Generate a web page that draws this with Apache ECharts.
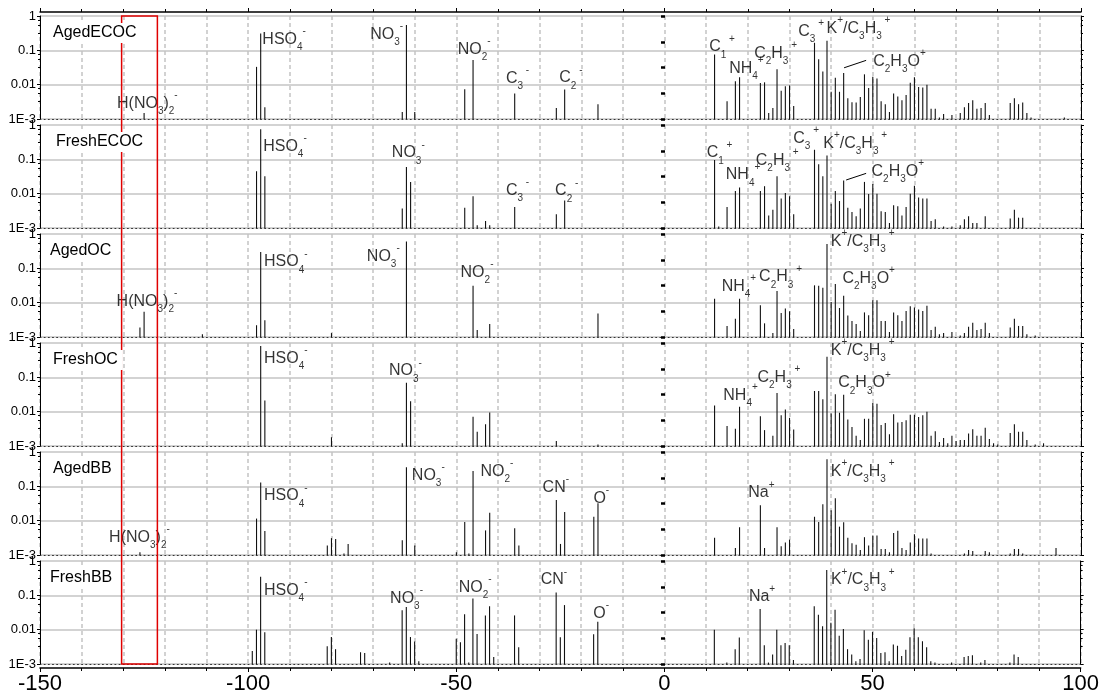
<!DOCTYPE html>
<html>
<head>
<meta charset="utf-8">
<script src="https://cdn.jsdelivr.net/npm/echarts@6/dist/echarts.min.js"></script>
<style>
  html, body { margin: 0; padding: 0; background: #fff; }
  #main { width: 1102px; height: 698px; }
</style>
</head>
<body>
<div id="main"></div>
<script>
// Panel names, top to bottom
const panelNames = ["AgedECOC", "FreshECOC", "AgedOC", "FreshOC", "AgedBB", "FreshBB"];

// Peak lists [m/z, relative intensity]
const agedECOC = [
  [-125, 0.0015], [-98, 0.033], [-97, 0.31], [-96, 0.0022], [-63, 0.0016], [-62, 0.55], [-60, 0.0016],
  [-48, 0.0074], [-46, 0.052], [-36, 0.0055], [-26, 0.0021], [-24, 0.0072], [-16, 0.0027],
  [12, 0.076], [15, 0.0033], [17, 0.0126], [18, 0.0165], [23, 0.0112], [24, 0.0117], [25, 0.0015],
  [26, 0.0021], [27, 0.028], [28, 0.0066], [29, 0.009], [30, 0.0095], [31, 0.0024], [36, 0.166],
  [37, 0.055], [38, 0.024], [39, 0.19], [40, 0.0062], [41, 0.016], [42, 0.0062], [43, 0.022],
  [44, 0.004], [45, 0.0031], [46, 0.003], [47, 0.0044], [48, 0.02], [49, 0.008], [50, 0.017],
  [51, 0.015], [52, 0.0033], [53, 0.0027], [54, 0.0016], [55, 0.0055], [56, 0.0045], [57, 0.0035],
  [58, 0.005], [59, 0.0114], [60, 0.0165], [61, 0.0085], [62, 0.0083], [63, 0.01], [64, 0.002],
  [65, 0.002], [66, 0.0011], [67, 0.0014], [69, 0.0013], [71, 0.0015], [72, 0.0022], [73, 0.0029],
  [74, 0.0035], [75, 0.002], [76, 0.0021], [77, 0.0029], [78, 0.0013], [83, 0.0029], [84, 0.004],
  [85, 0.0027], [86, 0.003], [87, 0.0015], [88, 0.0011], [96, 0.0011]
];
const freshECOC = [
  [-98, 0.045], [-97, 0.75], [-96, 0.032], [-63, 0.0037], [-62, 0.06], [-61, 0.022], [-48, 0.0039],
  [-46, 0.0084], [-45, 0.0012], [-43, 0.0016], [-42, 0.0012], [-36, 0.0041], [-26, 0.0025], [-24, 0.0063],
  [12, 0.095], [13, 0.0011], [15, 0.0041], [17, 0.012], [18, 0.015], [23, 0.012], [24, 0.0165],
  [25, 0.0023], [26, 0.0034], [27, 0.032], [28, 0.0072], [29, 0.0105], [30, 0.0084], [31, 0.0025],
  [36, 0.19], [37, 0.072], [38, 0.032], [39, 0.13], [40, 0.0051], [41, 0.012], [42, 0.0061],
  [43, 0.024], [44, 0.0039], [45, 0.0029], [46, 0.0022], [47, 0.0037], [48, 0.022], [49, 0.0097],
  [50, 0.019], [51, 0.01], [52, 0.0031], [53, 0.0029], [54, 0.0014], [55, 0.0046], [56, 0.0043],
  [57, 0.0023], [58, 0.0041], [59, 0.01], [60, 0.017], [61, 0.0077], [62, 0.0072], [63, 0.0072],
  [64, 0.0016], [65, 0.0018], [67, 0.0011], [69, 0.0011], [71, 0.0012], [72, 0.0018], [73, 0.0022],
  [74, 0.0014], [75, 0.0014], [77, 0.0022], [83, 0.0019], [84, 0.0034], [85, 0.002], [86, 0.002]
];
const agedOC = [
  [-126, 0.0019], [-125, 0.0054], [-111, 0.0012], [-98, 0.0022], [-97, 0.3], [-96, 0.0031], [-80, 0.0013],
  [-62, 0.6], [-46, 0.031], [-45, 0.0016], [-42, 0.0024], [-16, 0.0048],
  [12, 0.013], [15, 0.0021], [17, 0.0034], [18, 0.013], [23, 0.0084], [24, 0.0025], [26, 0.0013],
  [27, 0.022], [28, 0.005], [29, 0.0068], [30, 0.0056], [31, 0.0017], [36, 0.032], [37, 0.031],
  [38, 0.027], [39, 0.51], [40, 0.0105], [41, 0.035], [42, 0.007], [43, 0.016], [44, 0.0042],
  [45, 0.0029], [46, 0.0024], [47, 0.0015], [48, 0.0052], [49, 0.0043], [50, 0.0118], [51, 0.0118],
  [52, 0.0029], [53, 0.0029], [54, 0.0014], [55, 0.0052], [56, 0.0043], [57, 0.0029], [58, 0.0057],
  [59, 0.0078], [60, 0.0072], [61, 0.0063], [62, 0.0057], [63, 0.0082], [64, 0.0016], [65, 0.002],
  [66, 0.0012], [67, 0.0013], [69, 0.0014], [71, 0.0011], [72, 0.0013], [73, 0.002], [74, 0.0026],
  [75, 0.0016], [76, 0.0017], [77, 0.0026], [78, 0.0013], [83, 0.0019], [84, 0.0034], [85, 0.0021],
  [86, 0.0021], [87, 0.0012], [89, 0.0011]
];
const freshOC = [
  [-97, 0.82], [-96, 0.021], [-80, 0.0018], [-63, 0.0012], [-62, 0.069], [-61, 0.02], [-46, 0.0071],
  [-45, 0.0026], [-43, 0.0043], [-42, 0.0094], [-26, 0.0014], [-16, 0.0011],
  [12, 0.015], [15, 0.0038], [17, 0.0032], [18, 0.014], [23, 0.0074], [24, 0.0029], [26, 0.002],
  [27, 0.035], [28, 0.0079], [29, 0.0115], [30, 0.0066], [31, 0.003], [36, 0.04], [37, 0.04],
  [38, 0.023], [39, 0.4], [40, 0.0088], [41, 0.032], [42, 0.0093], [43, 0.031], [44, 0.0059],
  [45, 0.0036], [46, 0.002], [47, 0.0015], [48, 0.0062], [49, 0.0062], [50, 0.018], [51, 0.017],
  [52, 0.0041], [53, 0.0047], [54, 0.0022], [55, 0.0084], [56, 0.0048], [57, 0.005], [58, 0.0056],
  [59, 0.0082], [60, 0.0082], [61, 0.007], [62, 0.0079], [63, 0.01], [64, 0.002], [65, 0.0027],
  [66, 0.0013], [67, 0.0017], [68, 0.0012], [69, 0.002], [70, 0.0014], [71, 0.0015], [72, 0.0015],
  [73, 0.0023], [74, 0.0031], [75, 0.002], [76, 0.002], [77, 0.0034], [78, 0.0016], [79, 0.0012],
  [80, 0.0011], [83, 0.0024], [84, 0.0043], [85, 0.0026], [86, 0.0026], [87, 0.0015], [89, 0.0011],
  [91, 0.0012]
];
const agedBB = [
  [-126, 0.0012], [-98, 0.0115], [-97, 0.13], [-96, 0.005], [-81, 0.0019], [-80, 0.0031], [-79, 0.0029],
  [-77, 0.0011], [-76, 0.0021], [-63, 0.0027], [-62, 0.36], [-60, 0.0019], [-50, 0.0012], [-48, 0.0092],
  [-47, 0.0011], [-46, 0.28], [-43, 0.0052], [-42, 0.017], [-36, 0.006], [-35, 0.0019], [-26, 0.04],
  [-25, 0.0021], [-24, 0.018], [-17, 0.013], [-16, 0.032],
  [12, 0.0032], [17, 0.0016], [18, 0.0064], [23, 0.028], [24, 0.0016], [27, 0.0064], [28, 0.0018],
  [29, 0.0023], [30, 0.0028], [36, 0.013], [37, 0.0092], [38, 0.03], [39, 0.62], [40, 0.02],
  [41, 0.045], [42, 0.0067], [43, 0.009], [44, 0.0032], [45, 0.0022], [46, 0.002], [47, 0.0014],
  [48, 0.0033], [49, 0.0019], [50, 0.0037], [51, 0.0037], [52, 0.0015], [53, 0.0015], [54, 0.0012],
  [55, 0.0044], [56, 0.0051], [57, 0.0016], [58, 0.0014], [59, 0.0023], [60, 0.004], [61, 0.003],
  [62, 0.003], [63, 0.003], [64, 0.0011], [72, 0.0011], [73, 0.0014], [74, 0.0013], [77, 0.0013],
  [78, 0.0012], [83, 0.0011], [84, 0.0015], [85, 0.0015], [86, 0.0011], [94, 0.0016]
];
const freshBB = [
  [-99, 0.0024], [-98, 0.01], [-97, 0.35], [-96, 0.0084], [-81, 0.0033], [-80, 0.0061], [-79, 0.0027],
  [-73, 0.0022], [-72, 0.0021], [-66, 0.0011], [-63, 0.037], [-62, 0.046], [-61, 0.0061], [-60, 0.0045],
  [-59, 0.0012], [-50, 0.0054], [-49, 0.0043], [-48, 0.028], [-47, 0.0011], [-46, 0.081], [-45, 0.0075],
  [-43, 0.026], [-42, 0.048], [-41, 0.0016], [-36, 0.026], [-35, 0.0031], [-26, 0.12], [-25, 0.006],
  [-24, 0.052], [-17, 0.0074], [-16, 0.017],
  [12, 0.01], [15, 0.0011], [17, 0.0027], [18, 0.0059], [23, 0.04], [24, 0.0035], [25, 0.0011],
  [26, 0.0019], [27, 0.01], [28, 0.0035], [29, 0.0041], [30, 0.0035], [31, 0.0013], [36, 0.048],
  [37, 0.027], [38, 0.0126], [39, 0.55], [40, 0.016], [41, 0.038], [42, 0.0066], [43, 0.0105],
  [44, 0.0027], [45, 0.0019], [46, 0.0012], [47, 0.0014], [48, 0.0096], [49, 0.0051], [50, 0.0086],
  [51, 0.0057], [52, 0.0021], [53, 0.0022], [54, 0.0012], [55, 0.0037], [56, 0.0034], [57, 0.0017],
  [58, 0.0026], [59, 0.006], [60, 0.011], [61, 0.006], [62, 0.0046], [63, 0.0031], [64, 0.0012],
  [65, 0.0011], [69, 0.0011], [72, 0.0016], [73, 0.0017], [74, 0.0018], [76, 0.0011], [77, 0.0013],
  [83, 0.0011], [84, 0.0019], [85, 0.0016]
];
const panelData = [agedECOC, freshECOC, agedOC, freshOC, agedBB, freshBB];

// Ion labels (rich text)
const ionText = {
  HSO4: "{m|HSO}{b|4}{p|-}",
  NO3: "{m|NO}{b|3}{p|-}",
  NO2: "{m|NO}{b|2}{p|-}",
  C3n: "{m|C}{b|3}{p| -}",
  C2n: "{m|C}{b|2}{p| -}",
  HNO32: "{m|H(NO}{b|3}{m|)}{b|2}{p|-}",
  C1: "{m|C}{b|1}{p| +}",
  NH4: "{m|NH}{b|4}{p|+}",
  C2H3: "{m|C}{b|2}{m|H}{b|3}{p| +}",
  C3p: "{m|C}{b|3}{p| +}",
  K: "{m|K}{p|+}{m|/C}{b|3}{m|H}{b|3}{p| +}",
  C2H3O: "{m|C}{b|2}{m|H}{b|3}{m|O}{p|+}",
  CN: "{m|CN}{p|-}",
  O: "{m|O}{p|-}",
  Na: "{m|Na}{p|+}"
};

// Label anchors [m/z, intensity, ion] (left edge, vertical centre)
const labelsAgedECOC = [[-131.5, 0.0029, "HNO32"], [-96.6, 0.21, "HSO4"], [-70.7, 0.29, "NO3"], [-49.7, 0.106, "NO2"],
  [-38.1, 0.0154, "C3n"], [-25.3, 0.0157, "C2n"], [10.7, 0.127, "C1"], [15.5, 0.03, "NH4"], [21.5, 0.081, "C2H3"],
  [32.1, 0.35, "C3p"], [38.9, 0.44, "K"], [50.1, 0.048, "C2H3O"]];
const labelsFreshECOC = [[-96.4, 0.24, "HSO4"], [-65.5, 0.155, "NO3"], [-38.1, 0.0126, "C3n"], [-26.3, 0.012, "C2n"],
  [10.1, 0.155, "C1"], [14.7, 0.035, "NH4"], [21.9, 0.095, "C2H3"], [30.9, 0.41, "C3p"], [38.1, 0.29, "K"],
  [49.7, 0.045, "C2H3O"]];
const labelsAgedOC = [[-131.6, 0.011, "HNO32"], [-96.2, 0.155, "HSO4"], [-71.5, 0.22, "NO3"], [-49, 0.076, "NO2"],
  [13.7, 0.03, "NH4"], [22.7, 0.056, "C2H3"], [39.9, 0.6, "K"], [42.7, 0.05, "C2H3O"]];
const labelsFreshOC = [[-96.2, 0.36, "HSO4"], [-66.2, 0.155, "NO3"], [14.1, 0.03, "NH4"], [22.3, 0.1, "C2H3"],
  [39.9, 0.6, "K"], [41.7, 0.069, "C2H3O"]];
const labelsAgedBB = [[-133.4, 0.0032, "HNO32"], [-96.2, 0.053, "HSO4"], [-60.7, 0.21, "NO3"], [-44.2, 0.27, "NO2"],
  [-29.3, 0.093, "CN"], [-17.1, 0.044, "O"], [20.1, 0.065, "Na"], [39.9, 0.27, "K"]];
const labelsFreshBB = [[-96.2, 0.14, "HSO4"], [-65.9, 0.081, "NO3"], [-49.4, 0.17, "NO2"], [-29.7, 0.28, "CN"],
  [-17.1, 0.03, "O"], [20.3, 0.09, "Na"], [40, 0.28, "K"]];
const panelLabels = [labelsAgedECOC, labelsFreshECOC, labelsAgedOC, labelsFreshOC, labelsAgedBB, labelsFreshBB];

// Leader lines for C2H3O+ in the EC/OC panels
const leaderLines = { 0: [[43.1, 0.031], [48.4, 0.051]], 1: [[43.6, 0.025], [48.4, 0.039]] };

const xTicks = [-150, -100, -50, 0, 50, 100];
const yTicks = [0.001, 0.01, 0.1, 1];
const yTickText = ["1E-3", "0.01", "0.1", "1"];
const boxRange = [-130.4, -121.8];

const FONT = "'Liberation Sans', Arial, sans-serif";
const panelTop = (i) => 16 + 109 * i;
const nameLeft = [48, 51, 45, 48, 48, 45];

const grids = [], xAxes = [], yAxes = [], series = [], titles = [];

for (let i = 0; i < 6; i++) {
  grids.push({ left: 40, right: 21, top: panelTop(i), height: 103 });

  xAxes.push({
    type: "value", gridIndex: i, min: xTicks[0], max: xTicks[xTicks.length - 1], interval: 50,
    axisLine: { onZero: false, lineStyle: { color: "#333", width: 1, type: [1, 3.16] } },
    axisTick: { show: false }, axisLabel: { show: false },
    minorTick: { show: false, splitNumber: 5 },
    splitLine: { show: true, lineStyle: { color: "#c4c4c4", width: 1.5, type: [4, 3] } },
    minorSplitLine: { show: true, lineStyle: { color: "#c4c4c4", width: 1.5, type: [4, 3] } }
  });

  yAxes.push({
    type: "log", logBase: 10, gridIndex: i, min: 0.001, max: 1, position: "left",
    axisLine: { show: true, onZero: false, lineStyle: { color: "#000", width: 1 } },
    axisTick: { show: true, length: 3, lineStyle: { color: "#000" } },
    minorTick: { show: true, length: 2, splitNumber: 4, lineStyle: { color: "#000" } },
    axisLabel: {
      color: "#000", fontSize: 13, fontFamily: FONT, margin: 4,
      formatter: (v) => {
        const k = yTicks.findIndex((t) => Math.abs(Math.log10(t) - Math.log10(v)) < 0.01);
        return k >= 0 ? yTickText[k] : "";
      }
    },
    splitLine: { show: true, lineStyle: { color: "#c4c4c4", width: 1.5 } }
  });
  yAxes.push({
    type: "log", logBase: 10, gridIndex: i, min: 0.001, max: 1, position: "right",
    axisLine: { show: true, onZero: false, lineStyle: { color: "#000", width: 1 } },
    axisTick: { show: true, length: 3, lineStyle: { color: "#000" } },
    minorTick: { show: true, length: 2, splitNumber: 4, lineStyle: { color: "#000" } },
    axisLabel: { show: false }, splitLine: { show: false }
  });
  // tick marks along m/z = 0
  yAxes.push({
    type: "value", gridIndex: i, min: 0, max: 4, interval: 1, position: "left", offset: -625,
    axisLine: { show: false, onZero: false },
    axisTick: { show: true, length: 4, lineStyle: { color: "#000", width: 2.5 } },
    axisLabel: { show: false }, splitLine: { show: false }
  });

  series.push({
    type: "custom", xAxisIndex: i, yAxisIndex: 3 * i, z: 3, silent: true,
    data: panelData[i],
    renderItem: (params, api) => {
      const top = api.coord([api.value(0), api.value(1)]);
      const base = api.coord([api.value(0), 0.001]);
      return {
        type: "line",
        shape: { x1: top[0], y1: top[1], x2: base[0], y2: base[1] },
        style: { stroke: "#111", lineWidth: 1.1 }
      };
    }
  });

  series.push({
    type: "scatter", xAxisIndex: i, yAxisIndex: 3 * i, symbolSize: 0, silent: true, z: 4,
    data: panelLabels[i].map((d) => ({ value: [d[0], d[1]], name: d[2] })),
    label: {
      show: true, position: "right", distance: 0,
      formatter: (p) => ionText[p.name],
      rich: {
        m: { fontSize: 16, fontFamily: FONT, color: "#000", lineHeight: 26, verticalAlign: "middle" },
        b: { fontSize: 10, fontFamily: FONT, color: "#000", lineHeight: 26, verticalAlign: "bottom" },
        p: { fontSize: 10, fontFamily: FONT, color: "#000", lineHeight: 26, verticalAlign: "top" }
      }
    }
  });

  if (leaderLines[i]) {
    series.push({
      type: "line", xAxisIndex: i, yAxisIndex: 3 * i, data: leaderLines[i], symbol: "none", silent: true,
      lineStyle: { color: "#000", width: 1 }, z: 4
    });
  }

  titles.push({
    text: panelNames[i], left: nameLeft[i], top: panelTop(i) + 7,
    padding: [2, 5], backgroundColor: "#fff", z: 8,
    textStyle: { fontSize: 16, fontWeight: "normal", fontFamily: FONT, color: "#000" }
  });
}

// Frame top axis (ticks only)
xAxes.push({
  type: "value", gridIndex: 0, position: "top", offset: 4, min: -150, max: 100, interval: 50,
  axisLine: { onZero: false, lineStyle: { color: "#000", width: 1.5 } },
  axisTick: { show: true, length: 4, lineStyle: { color: "#000" } },
  minorTick: { show: true, length: 3, splitNumber: 5, lineStyle: { color: "#000" } },
  axisLabel: { show: false }, splitLine: { show: false }
});
// Bottom labelled axis
xAxes.push({
  type: "value", gridIndex: 5, position: "bottom", offset: 4, min: -150, max: 100, interval: 50,
  axisLine: { onZero: false, lineStyle: { color: "#000", width: 1.5 } },
  axisTick: { show: true, length: 4, lineStyle: { color: "#000" } },
  minorTick: { show: true, length: 3, splitNumber: 5, lineStyle: { color: "#000" } },
  axisLabel: { color: "#000", fontSize: 22, fontFamily: FONT, margin: 5 },
  splitLine: { show: false }
});

const chart = echarts.init(document.getElementById("main"), null, { renderer: "canvas" });
chart.setOption({
  animation: false,
  backgroundColor: "#fff",
  title: titles,
  grid: grids,
  xAxis: xAxes,
  yAxis: yAxes,
  series: series
});

// Red highlight box spanning all panels
const p1 = chart.convertToPixel({ gridIndex: 0 }, [boxRange[0], 1]);
const p2 = chart.convertToPixel({ gridIndex: 5 }, [boxRange[1], 0.001]);
chart.setOption({
  graphic: [{
    type: "rect", z: 5,
    shape: { x: p1[0], y: p1[1], width: p2[0] - p1[0], height: p2[1] - p1[1] },
    style: { fill: "none", stroke: "#e00000", lineWidth: 1.5 }
  }]
});
window.addEventListener("resize", () => chart.resize());
</script>
</body>
</html>
